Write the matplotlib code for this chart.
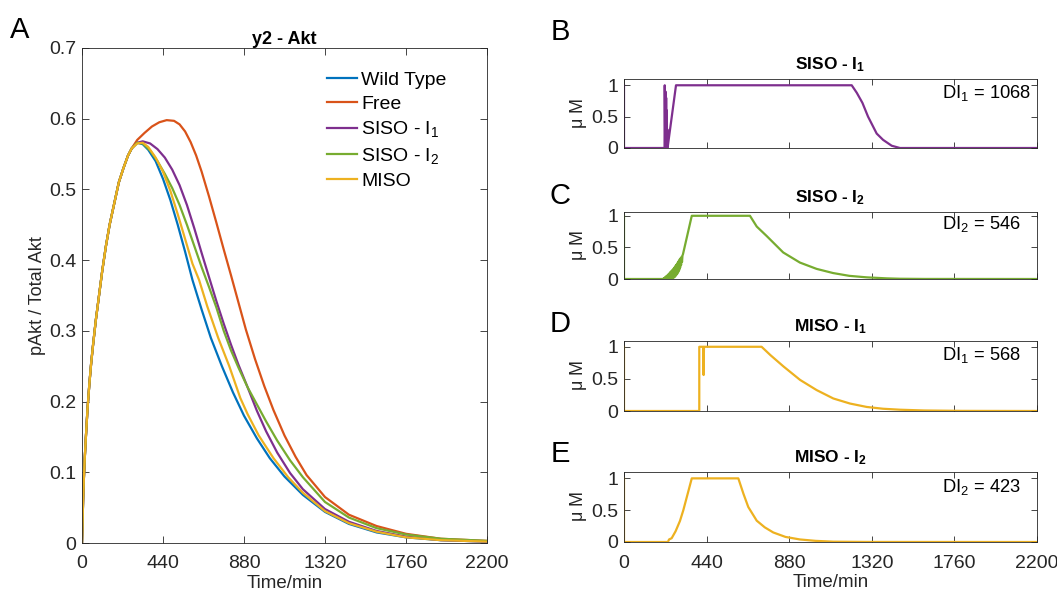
import numpy as np
import matplotlib
matplotlib.use("Agg")
import matplotlib.pyplot as plt

plt.rcParams['font.family'] = ['Liberation Sans', 'DejaVu Sans']
plt.rcParams['mathtext.fontset'] = 'custom'
plt.rcParams['mathtext.rm'] = 'Liberation Sans'
plt.rcParams['mathtext.it'] = 'Liberation Sans:italic'
plt.rcParams['mathtext.bf'] = 'Liberation Sans:bold'
plt.rcParams['mathtext.default'] = 'regular'

# colori standard MATLAB
C_BLUE = '#0072BD'
C_ORANGE = '#D95319'
C_YELLOW = '#EDB120'
C_PURPLE = '#7E2F8E'
C_GREEN = '#77AC30'
C_AX = '#262626'

# salita comune a tutte le curve (min, pAkt/Akt)
rise_t = [0, 3, 6, 10, 15, 20, 30, 40, 50, 60, 75, 90, 110, 130, 150, 175, 200, 225, 250, 270]
rise_v = [0, 0.03, 0.06, 0.09, 0.12, 0.145, 0.19, 0.225, 0.255, 0.28, 0.315, 0.345, 0.385,
          0.42, 0.45, 0.48, 0.51, 0.53, 0.548, 0.558]

wt_t = [300, 330, 360, 400, 440, 480, 520, 560, 600, 650, 700, 760, 820, 880, 950, 1020,
        1100, 1200, 1320, 1450, 1600, 1760, 1950, 2200]
wt_v = [0.566, 0.564, 0.556, 0.54, 0.515, 0.485, 0.45, 0.412, 0.372, 0.33, 0.29, 0.25,
        0.213, 0.18, 0.148, 0.12, 0.094, 0.068, 0.044, 0.027, 0.015, 0.008, 0.004, 0.002]

free_t = [300, 340, 380, 420, 460, 500, 530, 560, 590, 620, 650, 690, 730, 770, 810, 850,
          890, 940, 990, 1040, 1100, 1160, 1220, 1320, 1450, 1600, 1760, 1950, 2200]
free_v = [0.57, 0.58, 0.589, 0.595, 0.598, 0.597, 0.592, 0.582, 0.567, 0.548, 0.525, 0.49,
          0.453, 0.415, 0.378, 0.34, 0.302, 0.26, 0.222, 0.188, 0.152, 0.122, 0.096, 0.065,
          0.04, 0.024, 0.013, 0.006, 0.003]

siso1_t = [300, 330, 370, 410, 450, 490, 530, 570, 610, 650, 690, 730, 770, 810, 850, 900,
           950, 1000, 1060, 1130, 1200, 1320, 1450, 1600, 1760, 1950, 2200]
siso1_v = [0.566, 0.568, 0.565, 0.557, 0.545, 0.528, 0.506, 0.478, 0.445, 0.41, 0.376,
           0.342, 0.31, 0.28, 0.252, 0.22, 0.187, 0.158, 0.128, 0.099, 0.076, 0.048, 0.03,
           0.017, 0.009, 0.004, 0.002]

siso2_t = [300, 330, 370, 410, 450, 490, 530, 570, 610, 650, 690, 730, 770, 810, 850, 900,
           950, 1000, 1060, 1130, 1200, 1320, 1450, 1600, 1760, 1950, 2200]
siso2_v = [0.566, 0.565, 0.555, 0.54, 0.522, 0.502, 0.478, 0.45, 0.42, 0.39, 0.362, 0.333,
           0.3, 0.272, 0.248, 0.22, 0.196, 0.172, 0.145, 0.117, 0.093, 0.058, 0.036, 0.021,
           0.012, 0.006, 0.003]

miso_t = [300, 330, 360, 400, 440, 480, 520, 560, 600, 636, 680, 740, 800, 860, 900, 960,
          1040, 1120, 1200, 1320, 1450, 1600, 1760, 1950, 2200]
miso_v = [0.565, 0.566, 0.56, 0.545, 0.525, 0.498, 0.465, 0.43, 0.395, 0.372, 0.335, 0.29,
          0.25, 0.205, 0.182, 0.152, 0.12, 0.093, 0.071, 0.045, 0.028, 0.016, 0.008, 0.004,
          0.002]

series_names = ['Wild Type', 'Free', r'SISO - I$_1$', r'SISO - I$_2$', 'MISO']
series_t = [wt_t, free_t, siso1_t, siso2_t, miso_t]
series_v = [wt_v, free_v, siso1_v, siso2_v, miso_v]
series_col = [C_BLUE, C_ORANGE, C_PURPLE, C_GREEN, C_YELLOW]

# ingressi (uM) per i pannelli B-E
b_t = [0, 0, 216, 217, 219.5, 221, 223, 224.5, 226, 227.5, 229, 230.5, 232, 277, 1213,
       1240, 1270, 1300, 1346, 1380, 1426, 1470, 2200]
b_v = [1, 0, 0, 1, 0.05, 0.9, 0.05, 0.8, 0.02, 0.6, 0, 0.3, 0, 1, 1, 0.88, 0.72, 0.5,
       0.23, 0.13, 0.036, 0, 0]

c_t = [0, 0, 209, 211.5, 214, 216.5, 219, 221.5, 224, 226.5, 229, 231.5, 234, 236.5, 239,
       241.5, 244, 246.5, 249, 251.5, 254, 256.5, 259, 261.5, 264, 266.5, 269, 271.5, 274,
       276.5, 279, 281.5, 284, 286.5, 289, 291.5, 294, 296.5, 299, 301.5, 304, 306.5, 309,
       311.5, 314, 361, 671, 707, 760, 848, 937, 1026, 1114, 1200, 1293, 1400, 1470, 1600,
       2200]
c_v = [1, 0, 0, 0.01, 0, 0.02, 0, 0.035, 0, 0.045, 0, 0.06, 0, 0.075, 0, 0.09, 0, 0.11, 0,
       0.125, 0.005, 0.14, 0.01, 0.155, 0.02, 0.175, 0.03, 0.195, 0.045, 0.215, 0.065, 0.235,
       0.085, 0.26, 0.11, 0.285, 0.14, 0.31, 0.18, 0.33, 0.22, 0.35, 0.27, 0.37, 0.39, 1, 1,
       0.83, 0.68, 0.42, 0.26, 0.16, 0.094, 0.05, 0.026, 0.01, 0.004, 0.001, 0]

d_t = [0, 0, 401, 401, 422, 424, 426, 733, 780, 849, 938, 1026, 1115, 1204, 1293, 1380,
       1470, 1600, 1800, 2200]
d_v = [1, 0, 0, 1, 1, 0.56, 1, 1, 0.87, 0.695, 0.484, 0.326, 0.195, 0.116, 0.063, 0.035,
       0.02, 0.008, 0.002, 0]

e_t = [0, 0, 234, 240, 254, 275, 298, 316, 334, 361, 609, 636, 662, 707, 750, 795, 860,
       937, 1020, 1115, 1300, 2200]
e_v = [1, 0, 0, 0.04, 0.06, 0.17, 0.33, 0.5, 0.7, 1, 1, 0.76, 0.55, 0.335, 0.23, 0.15,
       0.08, 0.04, 0.018, 0.005, 0.001, 0]

panel_titles = [r'SISO - I$_\mathbf{1}$', r'SISO - I$_\mathbf{2}$',
                r'MISO - I$_\mathbf{1}$', r'MISO - I$_\mathbf{2}$']
panel_di = [r'DI$_1$ = 1068', r'DI$_2$ = 546', r'DI$_1$ = 568', r'DI$_2$ = 423']
panel_letters = ['B', 'C', 'D', 'E']
panel_t = [b_t, c_t, d_t, e_t]
panel_v = [b_v, c_v, d_v, e_v]
panel_col = [C_PURPLE, C_GREEN, C_YELLOW, C_YELLOW]
panel_ytop = [1.1, 1.06, 1.09, 1.1]

x_ticks = [0, 440, 880, 1320, 1760, 2200]


def stile_assi(ax):
    for s in ax.spines.values():
        s.set_color(C_AX)
        s.set_linewidth(0.6)
    ax.tick_params(direction='in', top=True, right=True, length=5, width=0.6,
                   colors=C_AX, labelsize=14, pad=4)
    ax.tick_params(axis='x', pad=9)


fig = plt.figure(figsize=(10.57, 5.95), dpi=100)
W, H = 1057.0, 595.0

# pannello A
ax = fig.add_axes([82 / W, 1 - 543 / H, 405 / W, 495 / H])
for t, v, c, n in zip(series_t, series_v, series_col, series_names):
    ax.plot(rise_t + t, rise_v + v, color=c, lw=1.6, label=n)
ax.set_xlim(0, 2200)
ax.set_ylim(0, 0.7)
ax.set_xticks(x_ticks)
ax.set_xticklabels([str(x) for x in x_ticks])
ax.set_yticks(np.arange(0, 0.71, 0.1))
ax.set_yticklabels(['0', '0.1', '0.2', '0.3', '0.4', '0.5', '0.6', '0.7'])
stile_assi(ax)
ax.set_xlabel('Time/min', fontsize=13.5, color=C_AX, labelpad=2)
ax.set_ylabel('pAkt / Total Akt', fontsize=13, color=C_AX, labelpad=2)
ax.set_title('y2 - Akt', fontsize=13, fontweight='bold', pad=3)
leg = ax.legend(loc='upper left', bbox_to_anchor=(0.605, 0.953), frameon=False,
                fontsize=14, handlelength=1.55, handletextpad=0.2, labelspacing=0.33,
                borderpad=0, borderaxespad=0)
fig.text(20 / W, 1 - 30 / H, 'A', fontsize=21, ha='center', va='center')

# pannelli B-E
boxes = [(79, 148), (212, 279), (341, 411), (472, 542)]
letter_y = [32, 196, 324, 454]
for i in range(4):
    top, bot = boxes[i]
    a = fig.add_axes([624 / W, 1 - bot / H, 413 / W, (bot - top) / H])
    a.plot(panel_t[i], panel_v[i], color=panel_col[i], lw=1.6)
    a.set_xlim(0, 2200)
    a.set_ylim(0, panel_ytop[i])
    a.set_xticks(x_ticks)
    a.set_yticks([0, 0.5, 1])
    a.set_yticklabels(['0', '0.5', '1'])
    stile_assi(a)
    a.tick_params(length=4)
    if i < 3:
        a.set_xticklabels([])
    else:
        a.set_xticklabels([str(x) for x in x_ticks])
        a.set_xlabel('Time/min', fontsize=13.5, color=C_AX, labelpad=2)
    a.set_ylabel(r'$\mu$ M', fontsize=13, color=C_AX, labelpad=2)
    a.set_title(panel_titles[i], fontsize=12.5, fontweight='bold', pad=7)
    a.text(1692, 0.87, panel_di[i], fontsize=13.2, color='black', ha='left', va='center')
    fig.text(560 / W, 1 - letter_y[i] / H, panel_letters[i], fontsize=21,
             ha='center', va='center')

fig.savefig('out.png', dpi=100)
